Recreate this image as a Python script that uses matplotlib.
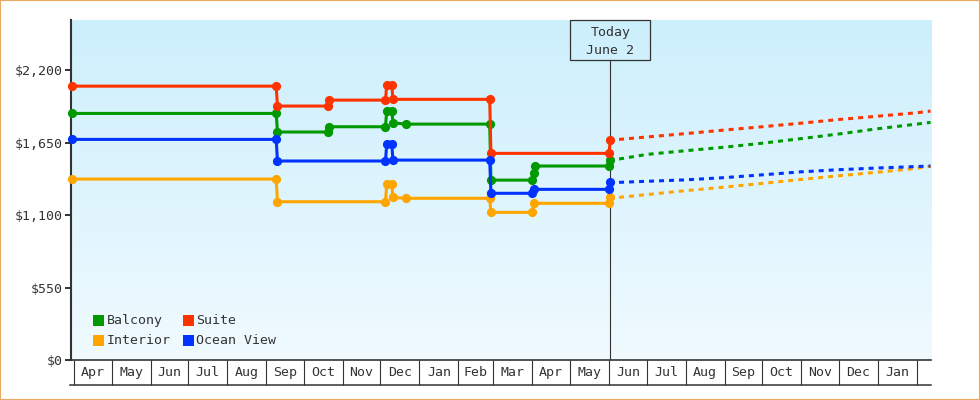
import matplotlib
matplotlib.use("Agg")
import numpy as np
import pandas as pd
import matplotlib.pyplot as plt
import matplotlib.dates as mdates
from matplotlib.patches import Rectangle
from matplotlib.transforms import ScaledTranslation

plt.rcParams['font.family'] = ['DejaVu Sans Mono']
plt.rcParams['lines.scale_dashes'] = False

# price history, change points only (last day of old price / first day of new one)
suite_dates = ["2024-03-30", "2024-09-09", "2024-09-10", "2024-10-20", "2024-10-21",
               "2024-12-05", "2024-12-06", "2024-12-10", "2024-12-11",
               "2025-02-26", "2025-02-27", "2025-06-01", "2025-06-02"]
suite_prices = [2078, 2078, 1927, 1927, 1972, 1972, 2086, 2086, 1978, 1978, 1568, 1568, 1669]

balcony_dates = ["2024-03-30", "2024-09-09", "2024-09-10", "2024-10-20", "2024-10-21",
                 "2024-12-05", "2024-12-06", "2024-12-10", "2024-12-11", "2024-12-21",
                 "2025-02-26", "2025-02-27", "2025-04-01", "2025-04-02", "2025-04-03",
                 "2025-06-01", "2025-06-02"]
balcony_prices = [1871, 1871, 1730, 1730, 1770, 1770, 1891, 1891, 1800, 1790,
                  1790, 1365, 1365, 1419, 1472, 1472, 1517]

ocean_dates = ["2024-03-30", "2024-09-09", "2024-09-10",
               "2024-12-05", "2024-12-06", "2024-12-10", "2024-12-11",
               "2025-02-26", "2025-02-27", "2025-04-01", "2025-04-02",
               "2025-06-01", "2025-06-02"]
ocean_prices = [1674, 1674, 1510, 1510, 1636, 1636, 1517, 1517, 1265, 1265, 1295, 1295, 1353]

interior_dates = ["2024-03-30", "2024-09-09", "2024-09-10",
                  "2024-12-05", "2024-12-06", "2024-12-10", "2024-12-11", "2024-12-21",
                  "2025-02-26", "2025-02-27", "2025-04-01", "2025-04-02",
                  "2025-06-01", "2025-06-02"]
interior_prices = [1373, 1373, 1201, 1201, 1333, 1333, 1234, 1227, 1227, 1120, 1120, 1189, 1189, 1234]

# forecast after today
forecast_dates = ["2025-06-09", "2025-07-01", "2025-08-01", "2025-09-01", "2025-10-01",
                  "2025-11-01", "2025-12-01", "2026-01-01", "2026-02-01", "2026-02-12"]
suite_forecast = [1674, 1692, 1718, 1745, 1770, 1797, 1825, 1850, 1876, 1889]
balcony_forecast = [1525, 1560, 1588, 1615, 1645, 1680, 1715, 1755, 1790, 1803]
ocean_forecast = [1348, 1356, 1367, 1384, 1405, 1428, 1444, 1457, 1468, 1472]
interior_forecast = [1234, 1255, 1285, 1312, 1340, 1370, 1398, 1425, 1455, 1470]

today = "2025-06-02"
price_ticks = [0, 550, 1100, 1650, 2200]
price_labels = ["$0", "$550", "$1,100", "$1,650", "$2,200"]
month_labels = ["Apr", "May", "Jun", "Jul", "Aug", "Sep", "Oct", "Nov", "Dec", "Jan", "Feb",
                "Mar", "Apr", "May", "Jun", "Jul", "Aug", "Sep", "Oct", "Nov", "Dec", "Jan"]

green, red, orange, blue = "#009900", "#FF3300", "#FFA500", "#0033FF"
ink = "#333333"

series = [
    ("Interior", orange, interior_dates, interior_prices, interior_forecast),
    ("Balcony", green, balcony_dates, balcony_prices, balcony_forecast),
    ("Suite", red, suite_dates, suite_prices, suite_forecast),
    ("Ocean View", blue, ocean_dates, ocean_prices, ocean_forecast),
]

fig = plt.figure(figsize=(9.8, 4.0), dpi=100)
rect = [71 / 980, 40 / 400, 860 / 980, 340 / 400]

# gradient background behind the plot
bg = fig.add_axes(rect, zorder=0)
top_c = np.array([204, 239, 252]) / 255
bot_c = np.array([240, 250, 255]) / 255
t = np.linspace(0, 1, 256)[:, None, None]
grad = top_c * (1 - t) + bot_c * t
bg.imshow(grad, aspect="auto", extent=[0, 1, 0, 1])
bg.axis("off")

ax = fig.add_axes(rect, zorder=1)
ax.set_facecolor("none")

for name, color, d, p, fc in series:
    ax.plot(pd.to_datetime(d), p, color=color, lw=2.2, marker="o", ms=5.6,
            clip_on=False, zorder=3)
    ax.plot(pd.to_datetime(forecast_dates), fc, color=color, lw=2.2,
            linestyle=(0, (3.6, 3.6)), zorder=3)

xmin = mdates.date2num(pd.Timestamp("2024-04-01")) - 2.4
xmax = mdates.date2num(pd.Timestamp("2024-04-01")) + 682.4
ax.set_xlim(xmin, xmax)
ax.set_ylim(0, 2580)

for s in ["top", "right"]:
    ax.spines[s].set_visible(False)
ax.spines["left"].set_color(ink)
ax.spines["left"].set_linewidth(1.5)
ax.spines["bottom"].set_color(ink)
ax.spines["bottom"].set_linewidth(1.2)

ax.set_yticks(price_ticks, labels=price_labels)
ax.tick_params(axis="y", length=4.3, width=1.4, color=ink, pad=1.5,
               labelsize=9.5, labelcolor=ink)

# month boxes under the axis
starts = pd.date_range("2024-04-01", "2026-02-01", freq="MS")
start_num = mdates.date2num(starts)
mids = (start_num[:-1] + start_num[1:]) / 2
ax.set_xticks(start_num)
ax.set_xticklabels([])
ax.set_xticks(mids, labels=month_labels, minor=True)
ax.tick_params(axis="x", which="major", length=18, width=0.8, color=ink, direction="out")
ax.tick_params(axis="x", which="minor", length=0, pad=4.5, labelsize=9.5, labelcolor=ink)
ax.plot([-1 / 860, 1], [-25 / 340, -25 / 340], transform=ax.transAxes,
        clip_on=False, color=ink, lw=1.1)

# today marker
today_num = mdates.date2num(pd.Timestamp(today))
ax.axvline(today_num, ymax=1 - 40 / 340, color=ink, lw=0.8, zorder=2)
tr = fig.dpi_scale_trans + ScaledTranslation(today_num, 1, ax.get_xaxis_transform())
ax.add_patch(Rectangle((-0.4, -0.4), 0.8, 0.4, transform=tr, fc="none",
                       ec=ink, lw=0.9, clip_on=False))
ax.text(0, -0.127, "Today", transform=tr, ha="center", va="center", fontsize=9.5, color=ink)
ax.text(0, -0.30, "June 2", transform=tr, ha="center", va="center", fontsize=9.5, color=ink)

# legend
legend_items = [("Balcony", green), ("Suite", red), ("Interior", orange), ("Ocean View", blue)]
ltr = fig.dpi_scale_trans + ScaledTranslation(0, 0, ax.transAxes)
for i, (name, color) in enumerate(legend_items):
    row, col = divmod(i, 2)
    x0 = 0.223 + col * 0.90
    yc = 0.393 - row * 0.20
    ax.add_patch(Rectangle((x0, yc - 0.055), 0.11, 0.11, transform=ltr, fc=color,
                           ec="none", clip_on=False))
    ax.text(x0 + 0.132, yc, name, transform=ltr, va="center", ha="left",
            fontsize=9.5, color=ink)

fig.patches.append(Rectangle((0, 0), 1, 1, transform=fig.transFigure, fill=False,
                             ec="#E9A963", lw=1.5))

fig.savefig("out.png", dpi=100)
